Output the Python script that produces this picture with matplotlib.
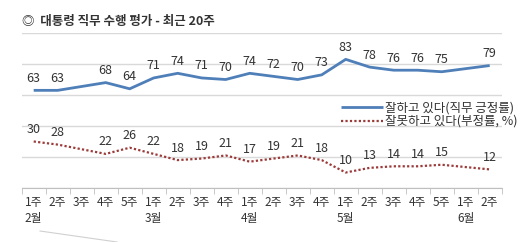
import numpy as np
import matplotlib
matplotlib.use('Agg')
import matplotlib.pyplot as plt
from matplotlib.lines import Line2D

plt.rcParams['font.family'] = ['Noto Sans CJK KR', 'DejaVu Sans']

# data
weeks = ['1주', '2주', '3주', '4주', '5주',
         '1주', '2주', '3주', '4주',
         '1주', '2주', '3주', '4주',
         '1주', '2주', '3주', '4주', '5주',
         '1주', '2주']
months = ['2월', '', '', '', '',
          '3월', '', '', '',
          '4월', '', '', '',
          '5월', '', '', '', '',
          '6월', '']
positive = [63, 63, None, 68, 64, 71, 74, 71, 70, 74, 72, 70, 73, 83, 78, 76, 76, 75, None, 79]
negative = [30, 28, None, 22, 26, 22, 18, 19, 21, 17, 19, 21, 18, 10, 13, 14, 14, 15, None, 12]
pos_label = '잘하고 있다(직무 긍정률)'
neg_label = '잘못하고 있다(부정률, %)'
title = '◎  대통령 직무 수행 평가 - 최근 20주'

blue = '#4f7fb8'
red = '#9b3a38'
txt = '#333333'

fig = plt.figure(figsize=(5.28, 2.42), dpi=100)
ax = fig.add_axes([21.7/528, 1-188/242, 480/528, 155/242])

x = np.arange(len(weeks))

def valid(vals):
	xs = [i for i, v in enumerate(vals) if v is not None]
	ys = [v for v in vals if v is not None]
	return xs, ys

px, py = valid(positive)
nx_, ny = valid(negative)
ax.plot(px, py, color=blue, lw=2, label=pos_label, solid_capstyle='butt')
ax.plot(nx_, ny, color=red, lw=1.6, ls=(0, (1, 1)), label=neg_label)

for i, v in zip(px, py):
	ax.annotate(str(v), (i, v), xytext=(0, 4), textcoords='offset points',
		ha='center', va='bottom', fontsize=9, color=txt)
for i, v in zip(nx_, ny):
	ax.annotate(str(v), (i, v), xytext=(0, 4), textcoords='offset points',
		ha='center', va='bottom', fontsize=9, color=txt)

ax.set_xlim(-0.5, len(weeks)-0.5)
ax.set_ylim(0, 100)
ax.set_yticks([0, 20, 40, 60, 80, 100])
ax.yaxis.grid(True, color='#d9d9d9', lw=1)
ax.tick_params(axis='y', left=False, labelleft=False)
for s in ['left', 'right', 'top']:
	ax.spines[s].set_visible(False)
ax.spines['bottom'].set_color('#bfbfbf')
ax.set_axisbelow(True)

labels = [w + '\n' + m for w, m in zip(weeks, months)]
ax.set_xticks(x)
ax.set_xticklabels(labels, fontsize=8.5, color=txt, linespacing=1.25, va='top')
ax.tick_params(axis='x', which='major', length=0, pad=6)
ax.set_xticks(np.arange(-0.5, len(weeks)), minor=True)
ax.tick_params(axis='x', which='minor', length=4, color='#bfbfbf')

ax.legend(loc='upper left', bbox_to_anchor=(335/528, 1-95/242), bbox_transform=fig.transFigure,
	frameon=False, fontsize=9, handlelength=3.3, handletextpad=0.2, labelspacing=0.05,
	borderpad=0, labelcolor=txt)

fig.text(22/528, 1-21/242, title, fontsize=9, fontweight='bold', color=txt, va='center', ha='left')

fig.add_artist(Line2D([40/528, 117/528], [1-231/242, 1-242/242], color='#d0d0d0', lw=0.8))

fig.savefig('out.png', dpi=100)
